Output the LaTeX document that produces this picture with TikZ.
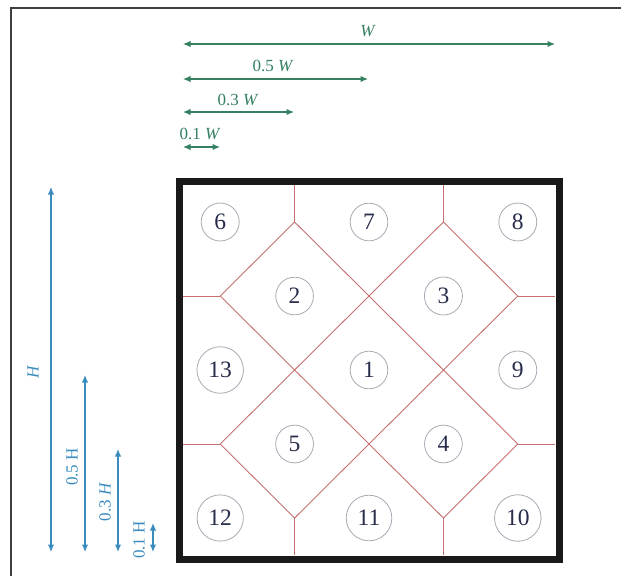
\documentclass[tikz,border=0pt]{standalone}
\usepackage{fontspec}
\setmainfont{Liberation Serif}
\usetikzlibrary{arrows.meta}
\definecolor{dimgreen}{RGB}{52,128,96}
\definecolor{dimblue}{RGB}{58,140,190}
\definecolor{gridred}{RGB}{200,112,112}
\definecolor{numcol}{RGB}{40,45,75}
\definecolor{ringcol}{RGB}{168,170,180}
\begin{document}
\begin{tikzpicture}[x=1pt,y=-1pt,
  dimarrow/.style={line width=1.3pt,{Latex[length=7.5pt,width=6.5pt]}-{Latex[length=7.5pt,width=6.5pt]}},
  wdim/.style={dimarrow,draw=dimgreen},
  hdim/.style={dimarrow,draw=dimblue},
  wlab/.style={text=dimgreen,font=\fontsize{17}{19}\selectfont,inner sep=0pt},
  hlab/.style={text=dimblue,font=\fontsize{17}{19}\selectfont,inner sep=0pt,rotate=90},
  cell/.style={circle,draw=ringcol,line width=0.8pt,text=numcol,font=\fontsize{23.5}{26}\selectfont,inner sep=6.5pt},
  gridline/.style={draw=gridred,line width=0.9pt}
]
\useasboundingbox (0,0) rectangle (621,576);
% outer frame
\draw[line width=1.8pt,black!75] (11,576) -- (11,8) -- (621,8);

% width dimensions
\coordinate (w0a) at (183,44);  \coordinate (w0b) at (555,44);
\coordinate (w1a) at (183,79);  \coordinate (w1b) at (368,79);
\coordinate (w2a) at (183,112); \coordinate (w2b) at (294,112);
\coordinate (w3a) at (183,147); \coordinate (w3b) at (220,147);
\draw[wdim] (w0a) -- (w0b);
\draw[wdim] (w1a) -- (w1b);
\draw[wdim] (w2a) -- (w2b);
\draw[wdim] (w3a) -- (w3b);
\node[wlab] (lw0) at (368,31) {\textit{W}};
\node[wlab] (lw1) at (273,66) {0.5 \textit{W}};
\node[wlab] (lw2) at (238,100) {0.3 \textit{W}};
\node[wlab] (lw3) at (200,134) {0.1 \textit{W}};

% height dimensions
\coordinate (h0a) at (51,552);  \coordinate (h0b) at (51,187);
\coordinate (h1a) at (85,552);  \coordinate (h1b) at (85,375);
\coordinate (h2a) at (118,552); \coordinate (h2b) at (118,449);
\coordinate (h3a) at (153,552); \coordinate (h3b) at (153,523);
\draw[hdim] (h0a) -- (h0b);
\draw[hdim] (h1a) -- (h1b);
\draw[hdim] (h2a) -- (h2b);
\draw[hdim] (h3a) -- (h3b);
\node[hlab] (lh0) at (33,372) {\textit{H}};
\node[hlab] (lh1) at (72,467) {0.5 H};
\node[hlab] (lh2) at (105,502) {0.3 \textit{H}};
\node[hlab] (lh3) at (139,540) {0.1 H};

% grid inside the square
\begin{scope}[shift={(183,185)},x=372pt,y=-370pt]
  \draw[gridline] (0.3,0.1) -- (0.5,0.3) -- (0.3,0.5) -- (0.1,0.3) -- cycle;
  \draw[gridline] (0.7,0.1) -- (0.9,0.3) -- (0.7,0.5) -- (0.5,0.3) -- cycle;
  \draw[gridline] (0.3,0.5) -- (0.5,0.7) -- (0.3,0.9) -- (0.1,0.7) -- cycle;
  \draw[gridline] (0.7,0.5) -- (0.9,0.7) -- (0.7,0.9) -- (0.5,0.7) -- cycle;
  \draw[gridline] (0.3,0) -- (0.3,0.1) (0.7,0) -- (0.7,0.1);
  \draw[gridline] (0.3,0.9) -- (0.3,1) (0.7,0.9) -- (0.7,1);
  \draw[gridline] (0,0.3) -- (0.1,0.3) (0,0.7) -- (0.1,0.7);
  \draw[gridline] (0.9,0.3) -- (1,0.3) (0.9,0.7) -- (1,0.7);
  \node[cell] (c6)  at (0.1,0.1) {6};
  \node[cell] (c7)  at (0.5,0.1) {7};
  \node[cell] (c8)  at (0.9,0.1) {8};
  \node[cell] (c2)  at (0.3,0.3) {2};
  \node[cell] (c3)  at (0.7,0.3) {3};
  \node[cell] (c13) at (0.1,0.5) {13};
  \node[cell] (c1)  at (0.5,0.5) {1};
  \node[cell] (c9)  at (0.9,0.5) {9};
  \node[cell] (c5)  at (0.3,0.7) {5};
  \node[cell] (c4)  at (0.7,0.7) {4};
  \node[cell] (c12) at (0.1,0.9) {12};
  \node[cell] (c11) at (0.5,0.9) {11};
  \node[cell] (c10) at (0.9,0.9) {10};
\end{scope}
% thick square border
\draw[line width=7pt,black!90] (179.5,181.5) rectangle (559,559);
\end{tikzpicture}
\end{document}
